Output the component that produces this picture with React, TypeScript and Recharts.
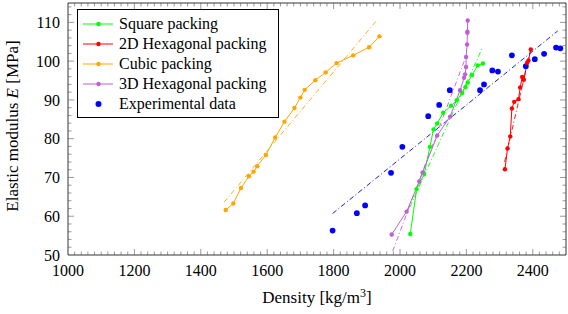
import React from 'react';
import {
  ComposedChart,
  Line,
  Scatter,
  XAxis,
  YAxis,
  ZAxis,
  ReferenceLine,
  ReferenceArea,
  Legend,
} from 'recharts';

// ---------- data ----------
const squareX = [2031, 2050, 2073, 2090, 2101, 2112, 2130, 2154, 2171, 2187, 2197, 2204, 2217, 2234, 2250];
const squareY = [55.4, 67.0, 70.9, 77.9, 82.4, 83.9, 86.7, 88.5, 89.9, 91.8, 93.3, 94.5, 96.4, 98.9, 99.4];

const hex2dX = [2316, 2324, 2332, 2337, 2344, 2357, 2362, 2368, 2373, 2383, 2387, 2394];
const hex2dY = [72.1, 77.5, 80.6, 87.8, 89.5, 90.2, 93.2, 95.9, 95.2, 99.6, 100.2, 103.0];

const cubicX = [1475, 1498, 1521, 1545, 1559, 1570, 1596, 1624, 1652, 1682, 1700, 1713, 1745, 1776, 1809, 1859, 1907, 1938];
const cubicY = [61.6, 63.3, 67.3, 70.3, 71.5, 72.9, 75.8, 80.3, 84.4, 87.9, 90.6, 92.6, 95.1, 97.1, 99.5, 101.5, 103.6, 106.4];

const hex3dX = [1975, 2020, 2058, 2068, 2112, 2151, 2181, 2193, 2196, 2199, 2199, 2202, 2203, 2203, 2204];
const hex3dY = [55.3, 61.2, 69.0, 71.3, 80.8, 85.7, 92.5, 95.7, 96.6, 98.5, 101.1, 104.3, 107.3, 107.6, 110.5];

const expX = [1797, 1870, 1895, 1973, 2007, 2085, 2118, 2150, 2241, 2253, 2278, 2295, 2337, 2379, 2406, 2434, 2470, 2483];
const expY = [56.3, 60.8, 62.8, 71.2, 77.9, 85.8, 88.7, 92.5, 92.5, 94.0, 97.6, 97.3, 101.5, 98.7, 100.5, 101.9, 103.5, 103.3];

// linear fits (end points)
const squareFitX = [2030, 2249];
const squareFitY = [62.4, 103.6];
const hex2dFitX = [2315, 2395];
const hex2dFitY = [74.0, 103.5];
const cubicFitX = [1470, 1930];
const cubicFitY = [63.6, 110.5];
const hex3dFitX = [1978, 2200];
const hex3dFitY = [51.0, 101.5];
const expFitX = [1797, 2475];
const expFitY = [60.7, 107.8];

const xTicks = [1000, 1200, 1400, 1600, 1800, 2000, 2200, 2400];
const yTicks = [50, 60, 70, 80, 90, 100, 110];
const xDomain = [1000, 2500];
const yDomain = [50, 115];

const names = ['Square packing', '2D Hexagonal packing', 'Cubic packing', '3D Hexagonal packing', 'Experimental data'];
const colors = ['#00ff00', '#ff0000', '#ffa500', '#bf5fd6', '#0000ff'];

// ---------- helpers ----------
const zip = (xs: number[], ys: number[]) => xs.map((x, i) => ({ x, y: ys[i] }));

const series = [
  { name: names[0], color: colors[0], data: zip(squareX, squareY), fit: zip(squareFitX, squareFitY) },
  { name: names[1], color: colors[1], data: zip(hex2dX, hex2dY), fit: zip(hex2dFitX, hex2dFitY) },
  { name: names[2], color: colors[2], data: zip(cubicX, cubicY), fit: zip(cubicFitX, cubicFitY) },
  { name: names[3], color: colors[3], data: zip(hex3dX, hex3dY), fit: zip(hex3dFitX, hex3dFitY) },
];
const expData = zip(expX, expY);
const expFit = zip(expFitX, expFitY);

const FONT = 'Liberation Serif, DejaVu Serif, Noto Serif, Times New Roman, serif';
const W = 568;
const H = 314;
const MARGIN = { top: 3, right: 2, bottom: 0, left: 0 };
const Y_AXIS_W = 68;
const X_AXIS_H = 59;
const PLOT_W = W - MARGIN.left - MARGIN.right - Y_AXIS_W;
const PLOT_H = H - MARGIN.top - MARGIN.bottom - X_AXIS_H;
const XU = (xDomain[1] - xDomain[0]) / PLOT_W; // data units per px
const YU = (yDomain[1] - yDomain[0]) / PLOT_H;

const MAJOR = 6;
const MINOR = 3.5;

const xTickMarks: { v: number; len: number }[] = [];
for (let v = xDomain[0] + 20; v < xDomain[1]; v += 20) {
  xTickMarks.push({ v, len: (v - xDomain[0]) % 200 === 0 ? MAJOR : MINOR });
}
const yTickMarks: { v: number; len: number }[] = [];
for (let v = yDomain[0] + 2; v < yDomain[1]; v += 2) {
  yTickMarks.push({ v, len: (v - yDomain[0]) % 10 === 0 ? MAJOR : MINOR });
}

const XTitle = (props: any) => {
  const vb = props.viewBox || { x: 0, y: 0, width: 0, height: 0 };
  return (
    <text x={vb.x + vb.width / 2} y={vb.y + 48} textAnchor="middle" style={{ fontFamily: FONT }} fontSize={17} fill="#000">
      Density [kg/m
      <tspan dy={-6} fontSize={12}>3</tspan>
      <tspan dy={6}>]</tspan>
    </text>
  );
};

const YTitle = (props: any) => {
  const vb = props.viewBox || { x: 0, y: 0, width: 0, height: 0 };
  const cx = vb.x + 18;
  const cy = vb.y + vb.height / 2 - 3;
  return (
    <text transform={`translate(${cx},${cy}) rotate(-90)`} textAnchor="middle" style={{ fontFamily: FONT }} fontSize={17} fill="#000">
      Elastic modulus <tspan fontStyle="italic">E</tspan> [MPa]
    </text>
  );
};

const LegendBox = () => {
  const entries = [
    ...series.map((s) => ({ name: s.name, color: s.color, line: true, r: 2.2 })),
    { name: names[4], color: colors[4], line: false, r: 3 },
  ];
  return (
    <div
      style={{
        width: 202,
        height: 109,
        boxSizing: 'border-box',
        border: '0.8px solid #000',
        background: '#fff',
        paddingTop: 4,
        fontFamily: FONT,
        fontSize: 16,
        color: '#000',
      }}
    >
      {entries.map((e) => (
        <div key={e.name} style={{ height: 20, display: 'flex', alignItems: 'center' }}>
          <svg width={41} height={20} style={{ flex: 'none', display: 'block' }}>
            {e.line && <line x1={5} x2={35} y1={10} y2={10} stroke={e.color} strokeWidth={1} />}
            <circle cx={20.5} cy={10} r={e.r} fill={e.color} />
          </svg>
          <span style={{ lineHeight: '20px', whiteSpace: 'nowrap' }}>{e.name}</span>
        </div>
      ))}
    </div>
  );
};

const DASH = '5 2.5 1 2.5';
const tickStyle = { fill: '#000', fontSize: 16, style: { fontFamily: FONT } };

export default function App() {
  return (
    <div style={{ width: W, height: H, fontFamily: FONT }}>
      <style>{'body{margin:0;} .recharts-text{font-family:' + FONT + ';}'}</style>
      <ComposedChart width={W} height={H} margin={MARGIN}>
        <XAxis
          type="number"
          dataKey="x"
          domain={xDomain}
          allowDataOverflow
          ticks={xTicks}
          interval={0}
          height={X_AXIS_H}
          tickSize={0}
          tickMargin={10}
          tickLine={false}
          axisLine={false}
          tick={tickStyle}
          label={<XTitle />}
        />
        <YAxis
          type="number"
          dataKey="y"
          domain={yDomain}
          allowDataOverflow
          ticks={yTicks}
          interval={0}
          width={Y_AXIS_W}
          tickSize={0}
          tickMargin={8}
          tickLine={false}
          axisLine={false}
          tick={tickStyle}
          label={<YTitle />}
        />
        <ZAxis type="number" range={[26, 26]} />
        <ReferenceArea
          x1={xDomain[0]}
          x2={xDomain[1]}
          y1={yDomain[0]}
          y2={yDomain[1]}
          fill="none"
          stroke="#000"
          strokeWidth={0.8}
          ifOverflow="visible"
        />
        {xTickMarks.map((t) => (
          <ReferenceLine
            key={'xb' + t.v}
            segment={[{ x: t.v, y: yDomain[0] }, { x: t.v, y: yDomain[0] + t.len * YU }]}
            stroke="#555"
            strokeWidth={0.6}
            ifOverflow="visible"
          />
        ))}
        {xTickMarks.map((t) => (
          <ReferenceLine
            key={'xt' + t.v}
            segment={[{ x: t.v, y: yDomain[1] }, { x: t.v, y: yDomain[1] - t.len * YU }]}
            stroke="#555"
            strokeWidth={0.6}
            ifOverflow="visible"
          />
        ))}
        {yTickMarks.map((t) => (
          <ReferenceLine
            key={'yl' + t.v}
            segment={[{ x: xDomain[0], y: t.v }, { x: xDomain[0] + t.len * XU, y: t.v }]}
            stroke="#555"
            strokeWidth={0.6}
            ifOverflow="visible"
          />
        ))}
        {yTickMarks.map((t) => (
          <ReferenceLine
            key={'yr' + t.v}
            segment={[{ x: xDomain[1], y: t.v }, { x: xDomain[1] - t.len * XU, y: t.v }]}
            stroke="#555"
            strokeWidth={0.6}
            ifOverflow="visible"
          />
        ))}
        {series.map((s) => (
          <Line
            key={s.name + 'fit'}
            data={s.fit}
            dataKey="y"
            stroke={s.color}
            strokeWidth={0.9}
            strokeDasharray={DASH}
            dot={false}
            activeDot={false}
            legendType="none"
            isAnimationActive={false}
          />
        ))}
        <Line
          data={expFit}
          dataKey="y"
          stroke={colors[4]}
          strokeWidth={0.9}
          strokeDasharray={DASH}
          dot={false}
          activeDot={false}
          legendType="none"
          isAnimationActive={false}
        />
        {series.map((s) => (
          <Line
            key={s.name}
            name={s.name}
            data={s.data}
            dataKey="y"
            stroke={s.color}
            strokeWidth={1}
            dot={{ r: 2.2, fill: s.color, stroke: 'none' }}
            activeDot={false}
            isAnimationActive={false}
          />
        ))}
        <Scatter
          name={names[4]}
          data={expData}
          dataKey="y"
          fill={colors[4]}
          shape="circle"
          isAnimationActive={false}
        />
        <Legend
          layout="vertical"
          align="center"
          verticalAlign="middle"
          wrapperStyle={{ left: 77, top: 9, width: 'auto', height: 'auto' }}
          content={<LegendBox />}
        />
      </ComposedChart>
    </div>
  );
}
